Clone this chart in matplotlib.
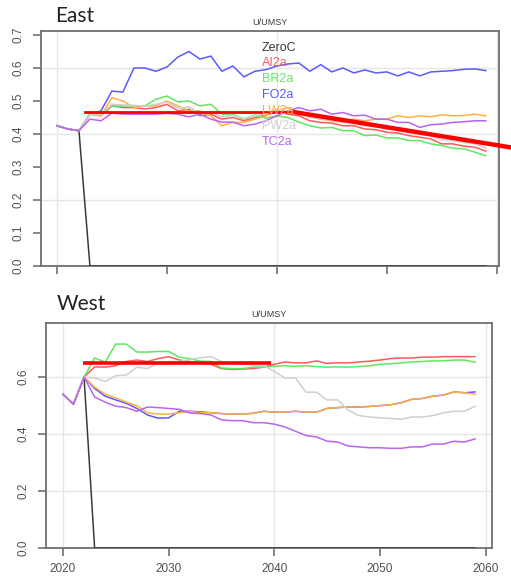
import numpy as np
import matplotlib
matplotlib.use("Agg")
import matplotlib.pyplot as plt

plt.rcParams['font.family'] = ['Liberation Sans', 'DejaVu Sans']

years = np.arange(2020, 2060)
scenarios = ['ZeroC', 'AI2a', 'BR2a', 'FO2a', 'LW2a', 'PW2a', 'TC2a']

# ---- East: U/UMSY, 2020-2022 shared history, 2023-2059 projections
east_hist = [0.425, 0.415, 0.41]
east_zeroc = [0.0] * 37
east_ai2a = [0.46, 0.455, 0.485, 0.48, 0.48, 0.476, 0.48, 0.49, 0.47, 0.475,
             0.455, 0.46, 0.445, 0.45, 0.44, 0.45, 0.457, 0.47, 0.46, 0.455,
             0.44, 0.435, 0.433, 0.425, 0.425, 0.415, 0.413, 0.405, 0.403, 0.395,
             0.39, 0.385, 0.37, 0.37, 0.363, 0.36, 0.348]
east_br2a = [0.46, 0.463, 0.485, 0.485, 0.485, 0.485, 0.505, 0.515, 0.497, 0.50,
             0.485, 0.49, 0.46, 0.46, 0.445, 0.457, 0.448, 0.455, 0.45, 0.436,
             0.425, 0.418, 0.42, 0.41, 0.41, 0.395, 0.397, 0.388, 0.388, 0.38,
             0.38, 0.37, 0.365, 0.357, 0.355, 0.345, 0.334]
east_fo2a = [0.46, 0.47, 0.53, 0.527, 0.60, 0.60, 0.59, 0.603, 0.633, 0.65,
             0.627, 0.636, 0.59, 0.606, 0.573, 0.59, 0.595, 0.606, 0.612, 0.615,
             0.59, 0.61, 0.588, 0.60, 0.585, 0.594, 0.585, 0.588, 0.576, 0.588,
             0.576, 0.588, 0.59, 0.592, 0.596, 0.597, 0.592]
east_lw2a = [0.46, 0.455, 0.51, 0.50, 0.48, 0.485, 0.485, 0.50, 0.485, 0.47,
             0.47, 0.455, 0.425, 0.435, 0.435, 0.445, 0.455, 0.47, 0.48, 0.46,
             0.455, 0.445, 0.44, 0.435, 0.445, 0.44, 0.445, 0.445, 0.455, 0.45,
             0.455, 0.452, 0.458, 0.455, 0.456, 0.46, 0.455]
east_pw2a = [0.46, 0.458, 0.49, 0.488, 0.487, 0.484, 0.49, 0.497, 0.478, 0.482,
             0.463, 0.468, 0.452, 0.457, 0.447, 0.455, 0.462, 0.475, 0.468, 0.462,
             0.45, 0.445, 0.442, 0.435, 0.435, 0.425, 0.423, 0.415, 0.413, 0.405,
             0.40, 0.395, 0.382, 0.38, 0.374, 0.37, 0.358]
east_tc2a = [0.445, 0.44, 0.463, 0.46, 0.46, 0.46, 0.46, 0.462, 0.46, 0.452,
             0.46, 0.445, 0.436, 0.436, 0.425, 0.43, 0.44, 0.455, 0.47, 0.48,
             0.47, 0.475, 0.46, 0.465, 0.455, 0.457, 0.445, 0.445, 0.435, 0.435,
             0.42, 0.428, 0.43, 0.435, 0.437, 0.44, 0.44]

# ---- West
west_hist = [0.54, 0.505, 0.60]
west_zeroc = [0.0] * 37
west_ai2a = [0.636, 0.635, 0.64, 0.655, 0.66, 0.655, 0.665, 0.672, 0.66, 0.655,
             0.65, 0.645, 0.63, 0.627, 0.628, 0.63, 0.635, 0.645, 0.653, 0.65,
             0.65, 0.657, 0.648, 0.65, 0.65, 0.653, 0.656, 0.66, 0.665, 0.667,
             0.667, 0.67, 0.67, 0.672, 0.672, 0.672, 0.672]
west_br2a = [0.667, 0.653, 0.716, 0.716, 0.688, 0.688, 0.69, 0.69, 0.67, 0.665,
             0.656, 0.655, 0.632, 0.63, 0.63, 0.635, 0.635, 0.638, 0.64, 0.638,
             0.64, 0.637, 0.635, 0.636, 0.635, 0.637, 0.64, 0.645, 0.647, 0.65,
             0.653, 0.655, 0.657, 0.657, 0.66, 0.66, 0.652]
west_fo2a = [0.56, 0.533, 0.52, 0.508, 0.49, 0.467, 0.456, 0.457, 0.48, 0.48,
             0.478, 0.475, 0.472, 0.47, 0.47, 0.473, 0.48, 0.477, 0.477, 0.48,
             0.477, 0.477, 0.49, 0.493, 0.495, 0.495, 0.497, 0.50, 0.503, 0.51,
             0.522, 0.525, 0.533, 0.537, 0.548, 0.545, 0.548]
west_lw2a = [0.565, 0.54, 0.527, 0.512, 0.50, 0.475, 0.47, 0.47, 0.475, 0.48,
             0.475, 0.475, 0.472, 0.47, 0.47, 0.473, 0.48, 0.477, 0.477, 0.48,
             0.477, 0.477, 0.49, 0.493, 0.495, 0.495, 0.497, 0.50, 0.503, 0.51,
             0.522, 0.525, 0.533, 0.537, 0.548, 0.545, 0.54]
west_pw2a = [0.597, 0.585, 0.605, 0.607, 0.635, 0.63, 0.65, 0.655, 0.655, 0.662,
             0.668, 0.672, 0.655, 0.65, 0.645, 0.642, 0.64, 0.62, 0.597, 0.597,
             0.547, 0.547, 0.52, 0.52, 0.484, 0.465, 0.46, 0.457, 0.455, 0.452,
             0.46, 0.46, 0.465, 0.475, 0.48, 0.48, 0.498]
west_tc2a = [0.53, 0.512, 0.498, 0.493, 0.48, 0.495, 0.493, 0.49, 0.487, 0.474,
             0.472, 0.467, 0.45, 0.447, 0.447, 0.44, 0.44, 0.435, 0.425, 0.41,
             0.395, 0.39, 0.375, 0.372, 0.358, 0.355, 0.352, 0.352, 0.35, 0.35,
             0.355, 0.355, 0.365, 0.365, 0.375, 0.372, 0.383]

# hand-drawn red reference lines
east_ref_x = [2022.55, 2041.45]
east_ref_y = [0.467, 0.467]
east_trend_x = [2041.45, 2061.5]
east_trend_y = [0.467, 0.358]
west_ref_x = [2021.9, 2039.7]
west_ref_y = [0.649, 0.649]

line_colors = {'ZeroC': '#3a3a3a', 'AI2a': '#ff5a5a', 'BR2a': '#5fe85f',
               'FO2a': '#5a5aff', 'LW2a': '#ffb040', 'PW2a': '#cfcfcf',
               'TC2a': '#b865f0'}

east = dict(zip(scenarios, [east_zeroc, east_ai2a, east_br2a, east_fo2a,
                            east_lw2a, east_pw2a, east_tc2a]))
west = dict(zip(scenarios, [west_zeroc, west_ai2a, west_br2a, west_fo2a,
                            west_lw2a, west_pw2a, west_tc2a]))

fig = plt.figure(figsize=(5.11, 5.83), dpi=100)
ax1 = fig.add_axes([41 / 511, 317 / 583, 458 / 511, 235 / 583])
ax2 = fig.add_axes([46 / 511, 35 / 583, 446 / 511, 225 / 583])


def draw_panel(ax, hist, series, xlim, ylim, yticks, show_xlabels):
    for name in scenarios:
        ax.plot(years, list(hist) + list(series[name]), color=line_colors[name],
                lw=1.1, label=name, zorder=3)
    ax.set_xlim(*xlim)
    ax.set_ylim(*ylim)
    for g in [0.2, 0.4, 0.6]:
        ax.axhline(g, color='#e6e6e6', lw=1.0, zorder=1)
    for g in [2020, 2040, 2060]:
        ax.axvline(g, color='#e6e6e6', lw=1.0, zorder=1)
    ax.set_xticks([2020, 2030, 2040, 2050, 2060])
    ax.set_yticks(yticks)
    ax.set_yticklabels([f'{t:.1f}' for t in yticks])
    if not show_xlabels:
        ax.set_xticklabels([])
    ax.tick_params(colors='#666666', labelcolor='#505050', length=6, width=1.1,
                   labelsize=8.5)
    ax.tick_params(axis='y', labelrotation=90, pad=6)
    ax.tick_params(axis='x', pad=5)
    for lab in ax.get_yticklabels():
        lab.set_va('center')
    for s in ax.spines.values():
        s.set_color('#707070')
        s.set_linewidth(1.3)
    ax.set_title('U/UMSY', fontsize=6.5, color='#3a3a3a', pad=4)


draw_panel(ax1, east_hist, east, (2018.55, 2060.2), (0, 0.712),
           np.arange(0, 0.71, 0.1), False)
draw_panel(ax2, west_hist, west, (2018.4, 2060.6), (0, 0.79),
           [0.0, 0.2, 0.4, 0.6], True)

leg = ax1.legend(loc='upper left', bbox_to_anchor=(0.4825, 0.955), frameon=False,
                 handlelength=0, handletextpad=0, borderpad=0, borderaxespad=0,
                 labelspacing=0.3, fontsize=9, labelcolor='linecolor')
for h in leg.legend_handles:
    h.set_visible(False)

ax1.plot(east_ref_x, east_ref_y, color='#ff0000', lw=2.0, zorder=5)
ax1.plot(east_trend_x, east_trend_y, color='#ff0000', lw=3.2, zorder=5,
         clip_on=False, solid_capstyle='butt')
ax2.plot(west_ref_x, west_ref_y, color='#ff0000', lw=2.6, zorder=5,
         solid_capstyle='butt')

fig.text(55 / 511, 1 - 16 / 583, 'East', fontsize=15, family=['Lato', 'DejaVu Sans'],
         va='center', ha='left', color='#222222')
fig.text(57 / 511, 1 - 304 / 583, 'West', fontsize=15, family=['Lato', 'DejaVu Sans'],
         va='center', ha='left', color='#222222')

fig.savefig('out.png', dpi=100, facecolor='white')
